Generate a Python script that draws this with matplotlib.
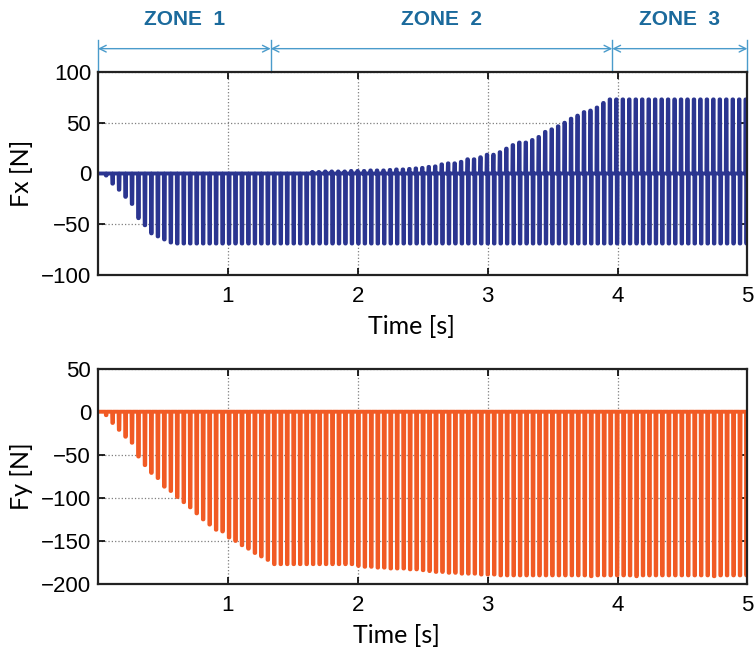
import numpy as np
import matplotlib
matplotlib.use("Agg")
import matplotlib.pyplot as plt

# spike train: one pulse per cycle, amplitudes read per pulse from the plot
pulse_start = 0.06      # s, first pulse
pulse_period = 0.0498   # s

fx_neg = [
    -2, -10, -16, -23, -30, -44, -51, -59, -62, -65,
    -68, -69, -69, -69, -69, -69, -69, -69, -69, -69,
    -69, -69, -69, -69, -69, -69, -69, -69, -69, -69,
    -69, -69, -69, -69, -69, -69, -69, -69, -69, -69,
    -69, -69, -69, -69, -69, -69, -69, -69, -69, -69,
    -69, -69, -69, -69, -69, -69, -69, -69, -69, -69,
    -69, -69, -69, -69, -69, -69, -69, -69, -69, -69,
    -69, -69, -69, -69, -69, -69, -69, -69, -69, -69,
    -69, -69, -69, -69, -69, -69, -69, -69, -69, -69,
    -69, -69, -69, -69, -69, -69, -69, -69, -69, -69,
]
fx_pos = [
    0, 0, 0, 0, 0, 0, 0, 0, 0, 0,
    0, 0, 0, 0, 0, 0, 0, 0, 0, 0,
    0, 0, 0, 0, 0, 0, 0, 0, 0, 0,
    0, 0, 1.5, 1.5, 2, 2, 2, 2, 2.5, 2.5,
    2.5, 3, 3, 3, 3.5, 4, 4, 4.5, 5, 5.5,
    6.5, 7, 9, 10, 10, 11.5, 14, 14, 16, 18.5,
    18.5, 21, 24.5, 28, 30.5, 30.5, 33, 36, 41, 43.5,
    46.5, 50, 54, 57, 60.5, 62, 65, 69.5, 73, 73,
    73, 73, 73, 73, 73, 73, 73, 73, 73, 73,
    73, 73, 73, 73, 73, 73, 73, 73, 73, 73,
]
fy_neg = [
    -4, -13, -21, -29, -36, -52, -62, -71, -77, -87,
    -92, -99, -105, -111, -118, -125, -131, -137, -139, -146,
    -150, -155, -159, -164, -168, -172, -177, -177, -177, -177,
    -177, -177, -177, -177, -177, -177, -177, -177, -177, -179,
    -180, -180, -181, -181, -182, -182, -182, -183, -183, -184,
    -185, -186, -186, -187, -187, -188, -188, -188, -189, -189,
    -189, -190, -190, -190, -190, -190, -190, -190, -190, -190,
    -190, -190, -190, -190, -190, -191, -190, -190, -190, -190,
    -190, -190, -191, -190, -190, -190, -190, -190, -190, -190,
    -190, -190, -190, -190, -191, -190, -190, -190, -190, -190,
]

zone_edges = [0.0, 1.33, 3.96, 5.0]
zone_names = ["ZONE  1", "ZONE  2", "ZONE  3"]

fx_color = "#2b3590"
fy_color = "#f15a24"
zone_text_color = "#1b6a9c"
zone_line_color = "#4a9bcb"

tick_font = ["Liberation Sans Narrow", "Liberation Sans", "DejaVu Sans"]
label_font = ["Lato", "DejaVu Sans"]


def build_signal(pos, neg):
    t = [0.0]
    y = [0.0]
    for k in range(len(neg)):
        tc = pulse_start + pulse_period * k
        t += [tc - 0.007, tc - 0.005, tc - 0.001, tc + 0.001, tc + 0.005, tc + 0.007]
        y += [0, pos[k], pos[k], neg[k], neg[k], 0]
    t.append(5.0)
    y.append(0.0)
    return np.array(t), np.array(y)


def style_axes(ax, yticks, ylabel, xlab_x, xlab_y):
    ax.set_xlim(0, 5)
    ax.set_ylim(yticks[0], yticks[-1])
    ax.set_xticks([1, 2, 3, 4, 5])
    ax.set_yticks(yticks)
    ax.grid(True, linestyle=":", color="#7f7f7f", linewidth=0.9)
    ax.tick_params(direction="in", length=5, width=1.2, top=True, right=True,
                   labelsize=16)
    ax.tick_params(axis="x", pad=8)
    ax.tick_params(axis="y", pad=5)
    for lab in ax.get_xticklabels() + ax.get_yticklabels():
        lab.set_family(tick_font)
    for sp in ax.spines.values():
        sp.set_linewidth(1.6)
        sp.set_color("#222222")
    ax.set_xlabel("Time [s]", family=label_font, fontsize=18)
    ax.set_ylabel(ylabel, family=label_font, fontsize=18)
    ax.xaxis.set_label_coords(xlab_x, xlab_y)
    ax.yaxis.set_label_coords(-0.1, 0.5)


fig = plt.figure(figsize=(7.56, 6.47), dpi=100)
ax1 = fig.add_axes([0.1296, 0.575, 0.8590, 0.3137])
ax2 = fig.add_axes([0.1296, 0.0974, 0.8590, 0.3328])

t_fx, fx = build_signal(fx_pos, fx_neg)
t_fy, fy = build_signal([0] * len(fy_neg), fy_neg)

ax1.plot(t_fx, fx, color=fx_color, linewidth=2.8)
ax2.plot(t_fy, fy, color=fy_color, linewidth=2.8)

style_axes(ax1, [-100, -50, 0, 50, 100], "Fx [N]", 0.483, -0.195)
style_axes(ax2, [-200, -150, -100, -50, 0, 50], "Fy [N]", 0.46, -0.185)

# zone markers above the top plot
trans = ax1.get_xaxis_transform()
for x in zone_edges:
    ax1.plot([x, x], [1.0, 1.16], transform=trans, color=zone_line_color,
             linewidth=1.0, clip_on=False)
for i, name in enumerate(zone_names):
    a, b = zone_edges[i], zone_edges[i + 1]
    ax1.annotate("", xy=(a, 1.115), xytext=(b, 1.115), xycoords=trans,
                 textcoords=trans,
                 arrowprops=dict(arrowstyle="<->", color=zone_line_color,
                                 linewidth=1.0, mutation_scale=12,
                                 shrinkA=0, shrinkB=0))
    ax1.text((a + b) / 2, 1.26, name, transform=trans, ha="center",
             va="center", fontsize=15, fontweight="bold",
             color=zone_text_color, family=["Liberation Sans", "DejaVu Sans"])

fig.savefig("out.png", dpi=100)
